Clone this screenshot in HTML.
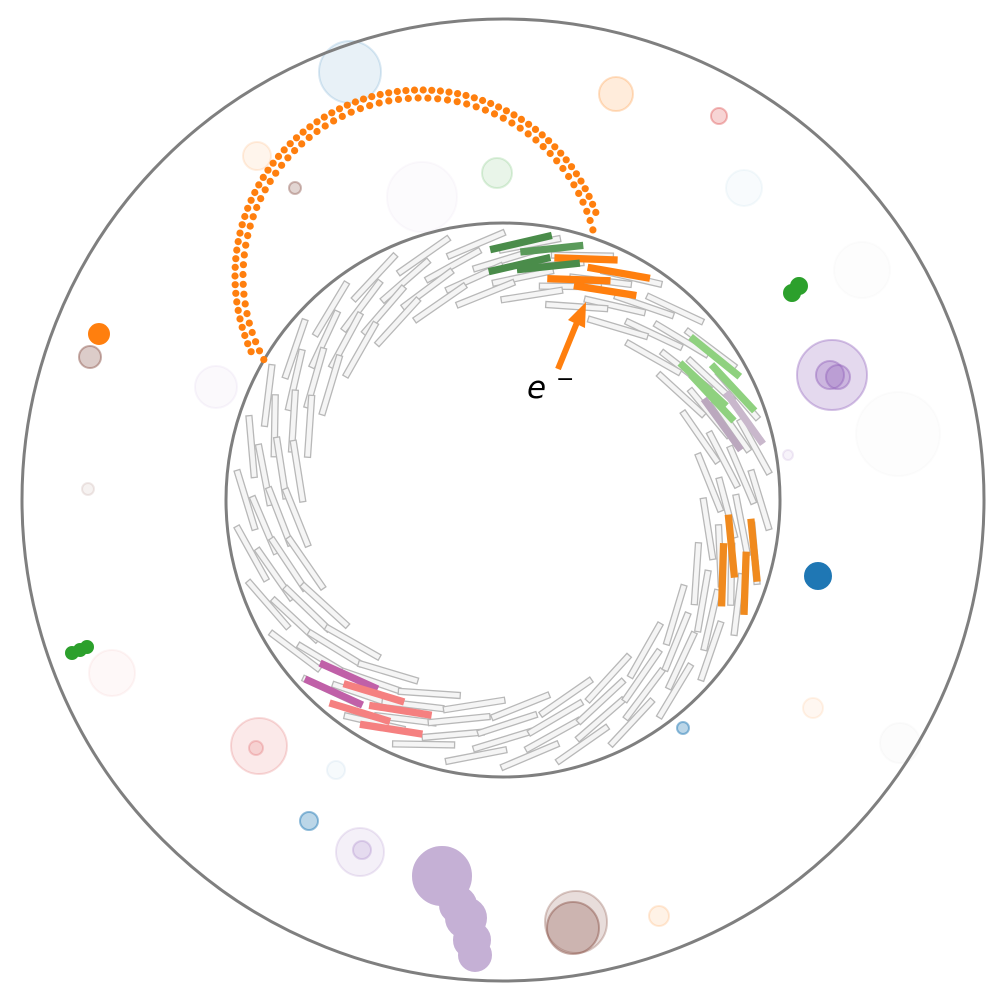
<!DOCTYPE html>
<html><head><meta charset="utf-8"><style>
html,body{margin:0;padding:0;background:#fff;width:1007px;height:1006px;overflow:hidden}
svg{display:block}
text{font-family:"DejaVu Sans","Liberation Sans",sans-serif}
</style></head><body>
<svg id="chart" width="1007" height="1006" viewBox="0 0 1007 1006" xmlns="http://www.w3.org/2000/svg">
<g id="bubbles"></g>
<circle cx="503" cy="500" r="481" fill="none" stroke="#7f7f7f" stroke-width="3"/>
<circle cx="503" cy="500" r="277" fill="none" stroke="#7f7f7f" stroke-width="3"/>
<g id="strips"></g>
<g id="hits"></g>
<g>
<line x1="558" y1="369" x2="578" y2="320" stroke="#ff7f0e" stroke-width="6"/>
<polygon points="586,302 585,328 568,320" fill="#ff7f0e"/>
<text x="527" y="398" font-size="31" font-style="italic">e</text>
<text x="556" y="386" font-size="22">−</text>
</g>
</svg>
<script>
const CX=503, CY=500;
// deposits: x, y, radius, color, fill opacity
const depX=[350,616,719,257,295,497,422,744,862,216,832,830,838,898,788,88,112,259,256,813,900,683,336,309,360,362,576,573,659,90,99,818,792,799,72,80,87,442,458,466,472,475];
const depY=[72,94,116,156,188,173,197,188,270,387,375,375,377,434,455,489,673,746,748,708,743,728,770,821,852,850,922,928,916,357,334,576,293,286,653,650,647,876,905,918,940,955];
const depR=[31,17,8,14,6,15,35,18,28,21,35,14,12,42,5,6,23,28,7,10,20,6,9,9,24,9,31,26,10,11,10,13,8,8,6,6,6,29,18,20,18,16];
const depC=['#1f77b4','#ff7f0e','#d62728','#ff7f0e','#8c564b','#2ca02c','#9467bd','#1f77b4','#7f7f7f','#9467bd','#9467bd','#9467bd','#9467bd','#7f7f7f','#9467bd','#8c564b','#d62728','#d62728','#d62728','#ff7f0e','#7f7f7f','#1f77b4','#1f77b4','#1f77b4','#9467bd','#9467bd','#8c564b','#8c564b','#ff7f0e','#8c564b','#ff7f0e','#1f77b4','#2ca02c','#2ca02c','#2ca02c','#2ca02c','#2ca02c','#c5b0d5','#c5b0d5','#c5b0d5','#c5b0d5','#c5b0d5'];
const depO=[0.1,0.15,0.2,0.08,0.25,0.1,0.025,0.03,0.015,0.04,0.25,0.3,0.3,0.015,0.08,0.08,0.03,0.1,0.12,0.06,0.02,0.3,0.04,0.3,0.1,0.15,0.2,0.3,0.1,0.3,1,1,1,1,1,1,1,1,1,1,1,1];
// tracker layers
const layerR=[257,240,224,207];
const layerN=[30,30,29,28];
const layerOff=[0,6,2,8];
// colored strip hits: angle (deg), radius, color
const hitA=[-71,-63,-71,-64,-86,-79,-86,-79,-34,-26,-30,-26,-18.7,-19,11.4,11.3,18.8,19,131.2,131.4,123.8,124,116,116];
const hitR=[255,255,233,233,258,256,236,238,256,256,231,233,255,232,233,256,232,256,234,256,232,256,234,255];
const hitC=['#ff7f0e','#ff7f0e','#ff7f0e','#ff7f0e','#4a8c4a','#5a9a5a','#4a8c4a','#4a8c4a','#8fd17f','#8fd17f','#8fd17f','#8fd17f','#c9b8cc','#bba8be','#f08a1e','#f08a1e','#f08a1e','#f08a1e','#c060a8','#c060a8','#f58080','#f58080','#f58080','#f58080'];
// electron track hits along helix
const trackCX=421, trackCY=276;
const trackR=[186,178];
const trackA0=[156,152], trackA1=[340,345];
const trackN=[70,62];
const NS='http://www.w3.org/2000/svg';
const gB=document.getElementById('bubbles');
for(let i=0;i<depX.length;i++){
  const c=document.createElementNS(NS,'circle');
  
  
  c.setAttribute('cx',depX[i]);c.setAttribute('cy',depY[i]);c.setAttribute('r',depR[i]);
  c.setAttribute('fill',depC[i]);c.setAttribute('fill-opacity',depO[i]);
  c.setAttribute('stroke',depC[i]);c.setAttribute('stroke-opacity',Math.min(1,depO[i]*1.6));c.setAttribute('stroke-width',2);
  gB.appendChild(c);
}
function strip(g,ang,r,fill,stroke,name){
  const t=ang*Math.PI/180;
  const x=CX+r*Math.cos(t), y=CY+r*Math.sin(t);
  const rot=ang+90-17;
  const s=document.createElementNS(NS,'rect');
  
  
  s.setAttribute('x',-31);s.setAttribute('y',-3);s.setAttribute('width',62);s.setAttribute('height',6);
  s.setAttribute('fill',fill);s.setAttribute('stroke',stroke);s.setAttribute('stroke-width',1.3);
  s.setAttribute('transform','translate('+x.toFixed(1)+','+y.toFixed(1)+') rotate('+rot.toFixed(1)+')');
  g.appendChild(s);
}
const gS=document.getElementById('strips');
for(let l=0;l<layerR.length;l++){
  for(let k=0;k<layerN[l];k++){
    strip(gS,layerOff[l]+k*360/layerN[l],layerR[l],'#f5f5f5','#b8b8b8','tracker-strip');
  }
}
for(let i=0;i<hitA.length;i++){strip(gS,hitA[i],hitR[i],hitC[i],hitC[i],'hit-strip');}
const gH=document.getElementById('hits');
for(let j=0;j<trackR.length;j++){
  for(let k=0;k<trackN[j];k++){
    const a=(trackA0[j]+(trackA1[j]-trackA0[j])*k/(trackN[j]-1))*Math.PI/180;
    const c=document.createElementNS(NS,'circle');
    
    
    c.setAttribute('cx',(trackCX+trackR[j]*Math.cos(a)).toFixed(1));
    c.setAttribute('cy',(trackCY+trackR[j]*Math.sin(a)).toFixed(1));
    c.setAttribute('r',3.6);c.setAttribute('fill','#ff7f0e');
    gH.appendChild(c);
  }
}
</script>
</body></html>
